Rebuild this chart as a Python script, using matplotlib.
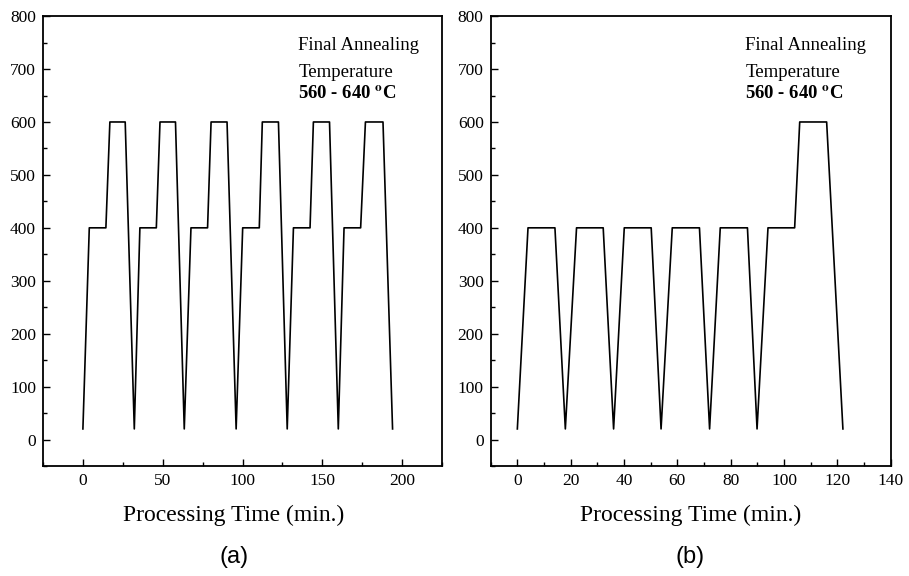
import numpy as np
import matplotlib
matplotlib.use('Agg')
import matplotlib.pyplot as plt
from matplotlib.ticker import MultipleLocator

plt.rcParams['font.family'] = ['Liberation Serif', 'DejaVu Serif']
plt.rcParams['mathtext.fontset'] = 'stix'

# (a) repeated two-step cycles
time_a = [0, 4, 14.4, 16.9, 26.5, 32.2, 35.7, 46, 48.3, 58, 63.5, 67.7, 78.1, 80.3, 90.3, 96,
          100.1, 110.5, 112.4, 122.5, 128, 131.9, 142.3, 144.4, 154.5, 160, 163.6, 174, 177, 188, 194]
temp_a = [20, 400, 400, 600, 600, 20, 400, 400, 600, 600, 20, 400, 400, 600, 600, 20,
          400, 400, 600, 600, 20, 400, 400, 600, 600, 20, 400, 400, 600, 600, 20]

# (b) 400 C cycles then final anneal
time_b = [0, 4, 14.1, 18, 22.2, 32.2, 36.1, 40.1, 50.2, 53.9, 58.1, 68.3, 72.1, 76.1, 86.3, 89.9,
          94, 104, 105.9, 116, 122.1]
temp_b = [20, 400, 400, 20, 400, 400, 20, 400, 400, 20, 400, 400, 20, 400, 400, 20,
          400, 400, 600, 600, 20]

note_lines = ['Final Annealing', 'Temperature']
note_range = r'560 - 640 $^{\mathbf{o}}$C'

fig = plt.figure(figsize=(9.09, 5.76), dpi=100)
ax_a = fig.add_axes([0.0473, 0.191, 0.439, 0.781])
ax_b = fig.add_axes([0.5398, 0.191, 0.440, 0.781])


def style(ax, xlim, xmajor, xminor, label_x):
    ax.set_xlim(*xlim)
    ax.set_ylim(-50, 800)
    ax.xaxis.set_major_locator(MultipleLocator(xmajor))
    ax.xaxis.set_minor_locator(MultipleLocator(xminor))
    ax.yaxis.set_major_locator(MultipleLocator(100))
    ax.yaxis.set_minor_locator(MultipleLocator(50))
    ax.tick_params(which='both', direction='in', top=False, right=False, labelsize=12.5, pad=5)
    ax.tick_params(which='major', length=5, width=1)
    ax.tick_params(which='minor', length=3, width=1)
    for s in ax.spines.values():
        s.set_linewidth(1.3)
    ax.set_xlabel('Processing Time (min.)', fontsize=17)
    ax.xaxis.set_label_coords(label_x, -0.087)


ax_a.plot(time_a, temp_a, color='black', lw=1.2)
style(ax_a, (-25, 225), 50, 25, 0.477)
ax_b.plot(time_b, temp_b, color='black', lw=1.2)
style(ax_b, (-10, 140), 20, 10, 0.5)

for ax, xt in [(ax_a, 135), (ax_b, 85.5)]:
    ax.text(xt, 745, note_lines[0], fontsize=13.5, va='center')
    ax.text(xt, 694, note_lines[1], fontsize=13.5, va='center')
    ax.text(xt, 652, note_range, fontsize=13.5, va='center', fontweight='bold')

fig.text(234 / 909, 1 - 557 / 576, '(a)', ha='center', va='center', fontsize=17,
         family=['Liberation Sans', 'DejaVu Sans'])
fig.text(690 / 909, 1 - 557 / 576, '(b)', ha='center', va='center', fontsize=17,
         family=['Liberation Sans', 'DejaVu Sans'])

fig.savefig('out.png', dpi=100)
